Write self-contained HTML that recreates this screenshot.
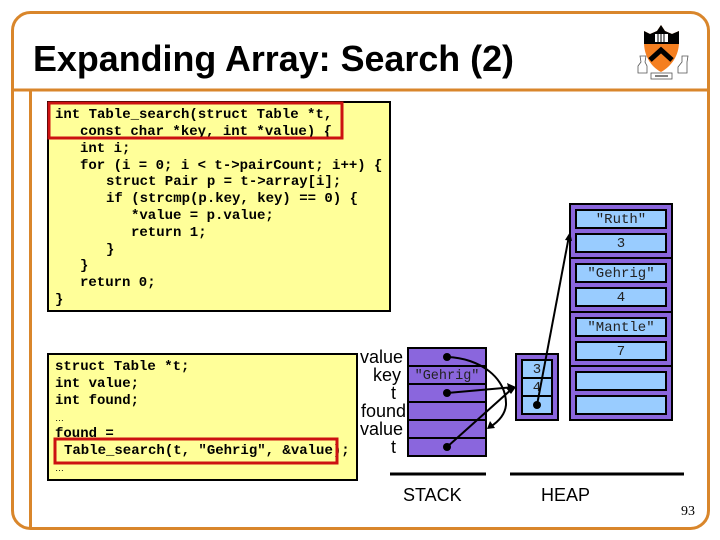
<!DOCTYPE html>
<html><head><meta charset="utf-8"><style>
html,body{margin:0;padding:0;background:#fff;width:720px;height:540px;overflow:hidden}
svg{display:block}
.c{font-family:"Liberation Mono",monospace;font-size:14px;font-weight:bold;fill:#000;white-space:pre}
.m{font-family:"Liberation Mono",monospace;font-size:14px;fill:#222;text-anchor:middle}
.s{font-family:"Liberation Sans",sans-serif;font-size:18px;fill:#000}
.l{text-anchor:end}
.p{fill:#8a66dd;stroke:#000;stroke-width:2}
.b{fill:#99ccff;stroke:#000;stroke-width:2}
.o{fill:none;stroke:#d9862b}
.k{stroke:#000;stroke-width:2;fill:none}
</style></head><body>
<svg width="720" height="540" viewBox="0 0 720 540" xmlns="http://www.w3.org/2000/svg">
<rect class="o" x="12.5" y="12.5" width="696" height="516" rx="18" stroke-width="3"/>
<path class="o" d="M12 90H708M30.500 90V528" stroke-width="3"/>
<text x="33" y="71" font-family="Liberation Sans,sans-serif" font-size="36" font-weight="bold" fill="#000" textLength="481" lengthAdjust="spacingAndGlyphs">Expanding Array: Search (2)</text>

<!-- logo -->
<path d="M644 31L650 34L657 31L661 25L665 31L672 34L679 31V42C679 55 672 66 661 72C650 66 644 55 644 42Z" fill="#f57f20"/>
<path d="M644 31L650 34L657 31L661 25L665 31L672 34L679 31V44H644Z" fill="#000"/>
<path d="M650 60L661 50L672 60" stroke="#000" stroke-width="5" fill="none"/>
<rect x="655" y="34" width="13" height="8" fill="#fff"/>
<path d="M658 34v8M661 34v8M664 34v8" stroke="#000" stroke-width="1"/>
<path d="M640 56h6l-1 6 2 4v7h-9v-7l3-4zM682 56h6l-1 6v11h-9v-6l4-5z" fill="none" stroke="#555" stroke-width="0.800"/>
<rect x="651" y="73" width="21" height="6" fill="none" stroke="#555" stroke-width="0.800"/>
<path d="M655 76h13" stroke="#555" stroke-width="1.500"/>

<!-- code 1 -->
<rect x="48" y="102" width="342" height="209" fill="#ffff99" stroke="#000" stroke-width="2"/>
<text class="c" x="55" y="118">int Table_search(struct Table *t,</text>
<text class="c" x="80" y="135">const char *key, int *value) {</text>
<text class="c" x="80" y="152">int i;</text>
<text class="c" x="80" y="169">for (i = 0; i &lt; t-&gt;pairCount; i++) {</text>
<text class="c" x="106" y="185">struct Pair p = t-&gt;array[i];</text>
<text class="c" x="106" y="202">if (strcmp(p.key, key) == 0) {</text>
<text class="c" x="131" y="219">*value = p.value;</text>
<text class="c" x="131" y="236">return 1;</text>
<text class="c" x="106" y="253">}</text>
<text class="c" x="80" y="269">}</text>
<text class="c" x="80" y="286">return 0;</text>
<text class="c" x="55" y="303">}</text>
<rect x="49" y="103" width="293" height="35" fill="none" stroke="#cc1111" stroke-width="3"/>

<!-- code 2 -->
<rect x="48" y="354" width="309" height="126" fill="#ffff99" stroke="#000" stroke-width="2"/>
<text class="c" x="55" y="370">struct Table *t;</text>
<text class="c" x="55" y="387">int value;</text>
<text class="c" x="55" y="404">int found;</text>
<text x="55" y="421" font-family="Liberation Sans,sans-serif" font-size="9">…</text>
<text class="c" x="55" y="437">found =</text>
<text class="c" x="64" y="454">Table_search(t, "Gehrig", &amp;value);</text>
<text x="55" y="471" font-family="Liberation Sans,sans-serif" font-size="9">…</text>
<rect x="55" y="439" width="282" height="24" fill="none" stroke="#cc1111" stroke-width="3"/>

<!-- stack labels -->
<text class="s l" x="403" y="363">value</text>
<text class="s l" x="401" y="381">key</text>
<text class="s l" x="396" y="399">t</text>
<text class="s l" x="406" y="417">found</text>
<text class="s l" x="403" y="435">value</text>
<text class="s l" x="396" y="453">t</text>

<!-- stack -->
<rect class="p" x="408" y="348" width="78" height="108"/>
<path class="k" d="M408 366H486M408 384H486M408 402H486M408 420H486M408 438H486"/>
<text class="m" x="447" y="379" style="font-size:13.500px">"Gehrig"</text>

<!-- small heap -->
<rect class="p" x="516" y="354" width="42" height="66"/>
<rect class="b" x="522" y="360" width="30" height="18"/>
<rect class="b" x="522" y="378" width="30" height="18"/>
<rect class="b" x="522" y="396" width="30" height="18"/>
<text class="m" x="537" y="373">3</text>
<text class="m" x="537" y="391">4</text>

<!-- heap -->
<rect class="p" x="570" y="204" width="102" height="216"/>
<path class="k" d="M570 258H672M570 312H672M570 366H672"/>
<rect class="b" x="576" y="210" width="90" height="18"/>
<rect class="b" x="576" y="234" width="90" height="18"/>
<rect class="b" x="576" y="264" width="90" height="18"/>
<rect class="b" x="576" y="288" width="90" height="18"/>
<rect class="b" x="576" y="318" width="90" height="18"/>
<rect class="b" x="576" y="342" width="90" height="18"/>
<rect class="b" x="576" y="372" width="90" height="18"/>
<rect class="b" x="576" y="396" width="90" height="18"/>
<text class="m" x="621" y="223">"Ruth"</text>
<text class="m" x="621" y="247">3</text>
<text class="m" x="621" y="277">"Gehrig"</text>
<text class="m" x="621" y="301">4</text>
<text class="m" x="621" y="331">"Mantle"</text>
<text class="m" x="621" y="355">7</text>

<!-- connectors -->
<g class="k">
<path d="M447 357C480 358 507 378 506 405C505 415 498 422 490 427"/>
<path d="M447 393L514 387"/>
<path d="M447 447L514 387"/>
<path d="M537 405L569 236"/>
</g>
<g fill="#000">
<circle cx="447" cy="357" r="4"/>
<circle cx="447" cy="393" r="4"/>
<circle cx="447" cy="447" r="4"/>
<circle cx="537" cy="405" r="4"/>
<path d="M516 387L507 383L509 391Z"/>
<path d="M516 387L511 394L506 388Z"/>
<path d="M487 429L495 428L490 421Z"/>
<path d="M570 232L565 240L572 241Z"/>
</g>

<path d="M390 474H486M510 474H684" stroke="#000" stroke-width="3"/>
<text class="s" x="403" y="501">STACK</text>
<text class="s" x="541" y="501">HEAP</text>
<text x="681" y="515" font-family="Liberation Serif,serif" font-size="14" fill="#000">93</text>
</svg>
</body></html>
